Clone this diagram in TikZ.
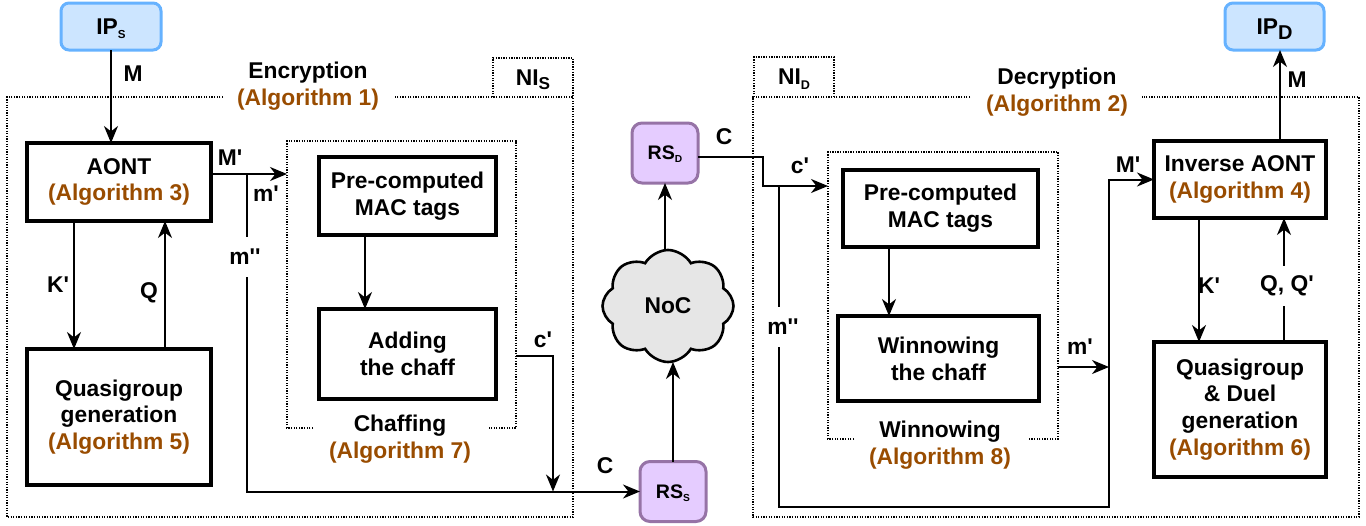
\documentclass[tikz,border=0pt]{standalone}
\usepackage{fontspec}
\setmainfont{Liberation Sans}
\usetikzlibrary{arrows.meta,shapes.symbols}
\definecolor{ipF}{HTML}{CCE5FF}
\definecolor{ipB}{HTML}{66B2FF}
\definecolor{rsF}{HTML}{E5CCFF}
\definecolor{rsB}{HTML}{9673A6}
\definecolor{cloudF}{HTML}{E6E6E6}
\definecolor{algc}{HTML}{994C00}
\newcommand\lowsub[3]{\raisebox{-#1}[0pt][0pt]{\fontsize{#2}{#2}\selectfont #3}}
\newcommand\alg[1]{\textcolor{algc}{#1}}
\newcommand\pr{\textquotesingle}
\tikzset{
  box/.style={draw, line width=1.6pt, fill=white, align=center, inner sep=0pt, outer sep=0pt},
  ipbox/.style={draw=ipB, fill=ipF, line width=1.5pt, rounded corners=4pt, inner sep=0pt, outer sep=0pt, minimum height=23.5pt},
  rsbox/.style={draw=rsB, fill=rsF, line width=1.5pt, rounded corners=5pt, inner sep=0pt, outer sep=0pt, minimum width=33pt, minimum height=30pt, font=\fontsize{9.8}{11}\selectfont\bfseries},
  conn/.style={line width=1pt, -{Stealth[length=8.5pt,width=7pt,inset=2.7pt]}},
  dotframe/.style={line width=0.65pt, dash pattern=on 0.65pt off 0.65pt},
  zone/.style={inner sep=0pt, outer sep=0pt},
  lbl/.style={inner sep=1pt},
  gaplbl/.style={fill=white, inner sep=1pt, minimum height=20pt},
  ttl/.style={align=center, inner sep=0pt}
}
\begin{document}
\begin{tikzpicture}[x=0.5pt,y=-0.5pt, font=\fontsize{11.4}{13.4}\selectfont\bfseries]
\useasboundingbox (0,0) rectangle (1366,525);

% ---------- frames ----------
\node[zone, minimum width=283pt, minimum height=210pt] (nis) at (290,307) {};
\node[zone, minimum width=40pt, minimum height=19.5pt] (nistab) at (533,77.5) {NI\lowsub{2.2pt}{8.6}{S}};
\draw[dotframe] (223,97) -- (nis.north west) -- (nis.south west) -- (nis.south east) -- (nis.north east) -- (395,97);
\draw[dotframe] (nistab.south west) -- (nistab.north west) -- (nistab.north east) -- (nistab.south east);
\node[ttl] (enc) at (308,86) {Encryption\\\alg{(Algorithm 1)}};

\node[zone, minimum width=303pt, minimum height=210pt] (nid) at (1056,307) {};
\node[zone, minimum width=40pt, minimum height=20pt] (nidtab) at (794,77) {NI\lowsub{2.2pt}{6.3}{D}};
\draw[dotframe] (970,97) -- (nid.north west) -- (nid.south west) -- (nid.south east) -- (nid.north east) -- (1142,97);
\draw[dotframe] (nidtab.south west) -- (nidtab.north west) -- (nidtab.north east) -- (nidtab.south east);
\node[ttl] (dec) at (1057,92.5) {Decryption\\\alg{(Algorithm 2)}};

\node[zone, minimum width=114.5pt, minimum height=143.5pt] (chaff) at (401.5,284.5) {};
\draw[dotframe] (313,428) -- (chaff.south west) -- (chaff.north west) -- (chaff.north east) -- (chaff.south east) -- (489,428);
\node[ttl] (chafft) at (400,439) {Chaffing\\\alg{(Algorithm 7)}};

\node[zone, minimum width=115pt, minimum height=143.5pt] (winn) at (943,295.5) {};
\draw[dotframe] (854,439) -- (winn.south west) -- (winn.north west) -- (winn.north east) -- (winn.south east) -- (1029,439);
\node[ttl] (winnt) at (940,445) {Winnowing\\\alg{(Algorithm 8)}};

% ---------- nodes ----------
\node[ipbox, minimum width=50pt] (ips) at (111,26.5) {IP\lowsub{2.2pt}{5.8}{S}};
\node[ipbox, minimum width=49.5pt] (ipd) at (1274.5,26.5) {IP\lowsub{2.5pt}{10}{D}};
\node[box, minimum width=92pt, minimum height=39pt] (aont) at (119,182) {AONT\\\alg{(Algorithm 3)}};
\node[box, minimum width=92pt, minimum height=68pt] (qg1) at (119,417) {Quasigroup\\generation\\\alg{(Algorithm 5)}};
\node[box, minimum width=88.5pt, minimum height=39pt] (pre1) at (407.5,196) {Pre-computed\\MAC tags};
\node[box, minimum width=88.5pt, minimum height=45pt] (add) at (407.5,354) {Adding\\the chaff};
\node[box, minimum width=97.5pt, minimum height=38.5pt] (pre2) at (940.5,208.5) {Pre-computed\\MAC tags};
\node[box, minimum width=100.5pt, minimum height=42.5pt] (winb) at (938.5,358.5) {Winnowing\\the chaff};
\node[box, minimum width=86pt, minimum height=38.5pt] (inv) at (1240,179.5) {Inverse AONT\\\alg{(Algorithm 4)}};
\node[box, minimum width=86pt, minimum height=67.5pt] (qg2) at (1240,409.5) {Quasigroup\\\& Duel\\generation\\\alg{(Algorithm 6)}};
\node[rsbox] (rss) at (673,491.5) {RS\lowsub{1.5pt}{5.1}{S}};
\node[rsbox] (rsd) at (665,153) {RS\lowsub{1.5pt}{5.1}{D}};
\node[cloud, draw, fill=cloudF, line width=1.3pt, cloud puffs=8, cloud puff arc=120, aspect=1.2, minimum width=65.5pt, minimum height=56pt, inner sep=0pt, outer sep=0pt] (noc) at (668,306) {NoC};

% ---------- junctions ----------
\coordinate (mj) at (247,174);
\coordinate (c1) at (553,356);
\coordinate (rsde) at ([yshift=-2pt]rsd.east);
\coordinate (d1) at (763,186);
\coordinate (mj2) at (779,186);
\coordinate (m2b) at (1109,507);
\coordinate (m3) at (1109,367);

% ---------- connectors (left) ----------
\draw[conn] (ips.south) -- (ips.south |- aont.north);
\draw[conn] (aont.east |- mj) -- (chaff.west |- mj);
\draw[conn] (mj) -- (mj |- rss.west) -- (rss.west);
\draw[conn] ([xshift=23.5pt]aont.south west) -- ([xshift=23.5pt]aont.south west |- qg1.north);
\draw[conn] ([xshift=69pt]qg1.north west) -- ([xshift=69pt]qg1.north west |- aont.south);
\draw[conn] ([xshift=23pt]pre1.south west) -- ([xshift=23pt]pre1.south west |- add.north);
\draw[conn] (chaff.east |- c1) -- (c1) -- (c1 |- rss.west);
\draw[conn] (rss.north) -- (rss.north |- noc.south);
\draw[conn] (rsd.south |- noc.north) -- (rsd.south);

% ---------- connectors (right) ----------
\draw[conn] (rsde) -- (d1 |- rsde) -- (d1) -- (winn.west |- d1);
\draw[conn] (mj2) -- (mj2 |- m2b) -- (m2b) -- (m2b |- inv.west) -- (inv.west);
\draw[conn] (winn.east |- m3) -- (m3);
\draw[conn] ([xshift=23pt]pre2.south west) -- ([xshift=23pt]pre2.south west |- winb.north);
\draw[conn] ([xshift=63pt]inv.north west) -- ([xshift=63pt]inv.north west |- ipd.south);
\draw[conn] ([xshift=22.5pt]inv.south west) -- ([xshift=22.5pt]inv.south west |- qg2.north);
\draw[conn] ([xshift=65pt]qg2.north west) -- ([xshift=65pt]qg2.north west |- inv.south);

% ---------- labels ----------
\node[lbl] (lM1) at (133,74) {M};
\node[lbl] (lMp1) at (230,158) {M\pr};
\node[lbl] (lmp1) at (266,194) {m\pr};
\node[gaplbl] (lmpp1) at (245,257) {m\pr\pr};
\node[lbl] (lK1) at (58,285) {K\pr};
\node[lbl] (lQ1) at (149,293) {Q};
\node[lbl] (lc1) at (543,340) {c\pr};
\node[lbl] (lC1) at (605,466) {C};
\node[lbl] (lC2) at (724,137) {C};
\node[lbl] (lc2) at (800,166) {c\pr};
\node[gaplbl] (lmpp2) at (783,327) {m\pr\pr};
\node[lbl] (lMp2) at (1128,165) {M\pr};
\node[lbl] (lmp2) at (1080,347) {m\pr};
\node[lbl] (lK2) at (1209,286) {K\pr};
\node[gaplbl] (lQ2) at (1287,286) {Q, Q\pr};
\node[lbl] (lM2) at (1297,80) {M};
\end{tikzpicture}
\end{document}
